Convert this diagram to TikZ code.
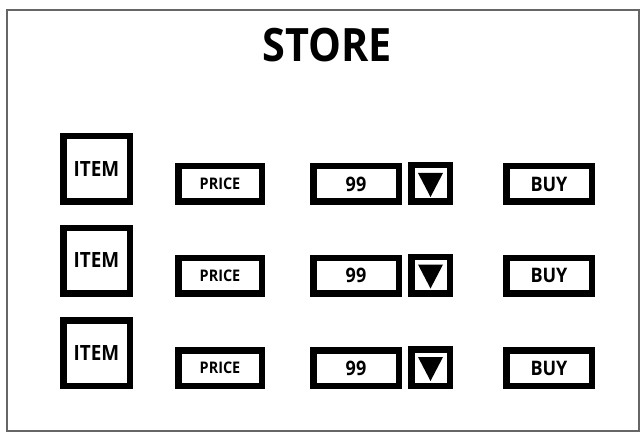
\documentclass[tikz,border=0pt]{standalone}
\usepackage{fontspec}
\setmainfont{Open Sans}[FakeStretch=0.9]
\begin{document}
\begin{tikzpicture}[x=1pt,y=-1pt,
  box/.style={draw=black,line width=6.5pt,inner sep=0pt,fill=white},
  itembox/.style={box,minimum width=66.5pt,minimum height=65.5pt,font=\bfseries\fontsize{21}{21}\selectfont},
  pricebox/.style={box,minimum width=83.5pt,minimum height=35.5pt,font=\bfseries\fontsize{16}{16}\selectfont},
  qtybox/.style={box,minimum width=85.5pt,minimum height=35.5pt,font=\bfseries\fontsize{20}{20}\selectfont},
  ddbox/.style={box,minimum width=38.5pt,minimum height=36.5pt},
  buybox/.style={box,minimum width=85.5pt,minimum height=35.5pt,font=\bfseries\fontsize{20}{20}\selectfont},
  frame/.style={draw=black!60,line width=1.3pt},
  title/.style={font=\bfseries\fontsize{46}{46}\selectfont,inner sep=0pt}
]
\useasboundingbox (0,0) rectangle (644,438);
\draw[frame] (7,10) rectangle (639,431);
\node[title] (store) at (327,45) {STORE};
\foreach \b [count=\i] in {205,296.5,389}{
  \node[itembox] (item\i) at (96.5,\b-36) {ITEM};
  \node[pricebox] (price\i) at (220,\b-21) {PRICE};
  \node[qtybox] (qty\i) at (356,\b-21) {99};
  \node[ddbox] (dd\i) at (430.5,\b-21.5) {};
  \node[buybox] (buy\i) at (549,\b-21) {BUY};
  \fill[black] ([shift={(-12.5,-10.5)}]dd\i.center) -- ([shift={(12.5,-10.5)}]dd\i.center) -- ([shift={(0,13.5)}]dd\i.center) -- cycle;
}
\end{tikzpicture}
\end{document}
